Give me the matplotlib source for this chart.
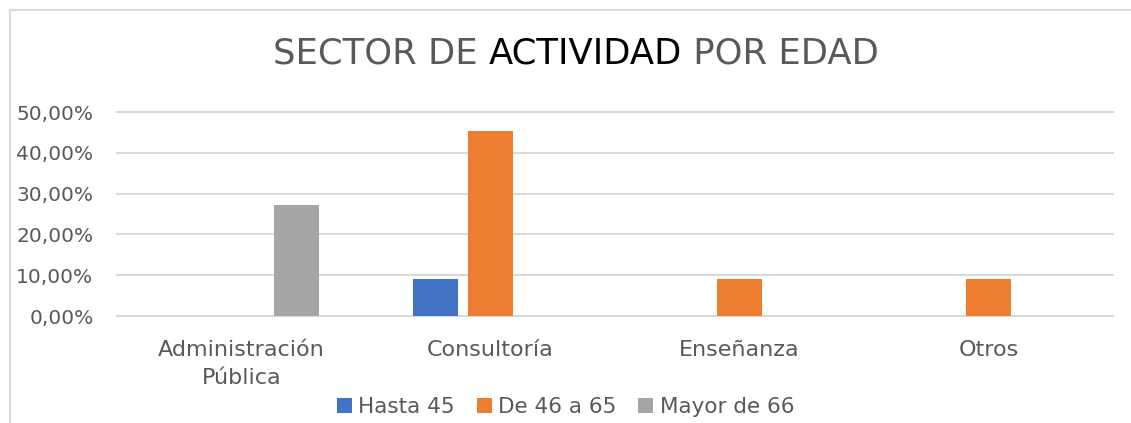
import matplotlib.pyplot as plt
import numpy as np
from matplotlib.patches import Rectangle
from matplotlib.ticker import FuncFormatter

categorias = ["Administración\nPública", "Consultoría", "Enseñanza", "Otros"]
series = ["Hasta 45", "De 46 a 65", "Mayor de 66"]
hasta_45 = [0.0, 0.0909, 0.0, 0.0]
de_46_a_65 = [0.0, 0.4545, 0.0909, 0.0909]
mayor_66 = [0.2727, 0.0, 0.0, 0.0]
colores = ["#4472C4", "#ED7D31", "#A5A5A5"]
gris_texto = "#595959"

plt.rcParams['font.family'] = ['DejaVu Sans']

W, H = 1131, 423
fig = plt.figure(figsize=(W / 100, H / 100), dpi=100)
ax = fig.add_axes([117 / W, (H - 316) / H, (1113 - 117) / W, (316 - 112) / H])

# marco del gráfico (recortado a la derecha y abajo)
fig.add_artist(Rectangle((10 / W, -0.1), 1.2, (H - 10) / H + 0.1, transform=fig.transFigure,
                         fill=False, edgecolor="#d9d9d9", linewidth=1.5))

x = np.arange(len(categorias))
ancho = 0.177
paso = 0.221
for i, (vals, nombre) in enumerate(zip([hasta_45, de_46_a_65, mayor_66], series)):
    ax.bar(x + (i - 1) * paso, vals, ancho, color=colores[i], label=nombre, zorder=3)

ax.set_xlim(-0.5, len(categorias) - 0.5)
ax.set_ylim(0, 0.5)
ax.set_yticks(np.arange(0, 0.51, 0.1))
ax.yaxis.set_major_formatter(FuncFormatter(lambda v, p: f"{v * 100:.2f}%".replace(".", ",")))
ax.set_xticks(x)
ax.set_xticklabels(categorias, fontsize=16, color=gris_texto, linespacing=1.55)
ax.tick_params(axis='y', labelsize=14.5, labelcolor=gris_texto, length=0, pad=17)
ax.tick_params(axis='x', length=0, pad=17)
ax.grid(axis='y', color="#d9d9d9", linewidth=1.5, zorder=0)
for g in ax.get_ygridlines():
    g.set_clip_on(False)
for s in ax.spines.values():
    s.set_visible(False)

ax.legend(loc="center", bbox_to_anchor=(0.5, (H - 407) / H), bbox_transform=fig.transFigure,
          ncol=3, frameon=False, fontsize=15.5, labelcolor=gris_texto, handlelength=0.7,
          handleheight=0.7, handletextpad=0.3, columnspacing=1.0)

# título con "ACTIVIDAD" en negro
partes = [("SECTOR DE ", gris_texto), ("ACTIVIDAD", "black"), (" POR EDAD", gris_texto)]
textos = [fig.text(0, (H - 54) / H, t, color=c, fontsize=25.5, va="center") for t, c in partes]
fig.canvas.draw()
r = fig.canvas.get_renderer()
anchos = [t.get_window_extent(r).width for t in textos]
x0 = (576 - sum(anchos) / 2)
for t, w in zip(textos, anchos):
    t.set_x(x0 / W)
    x0 += w

fig.savefig("out.png", dpi=100)
